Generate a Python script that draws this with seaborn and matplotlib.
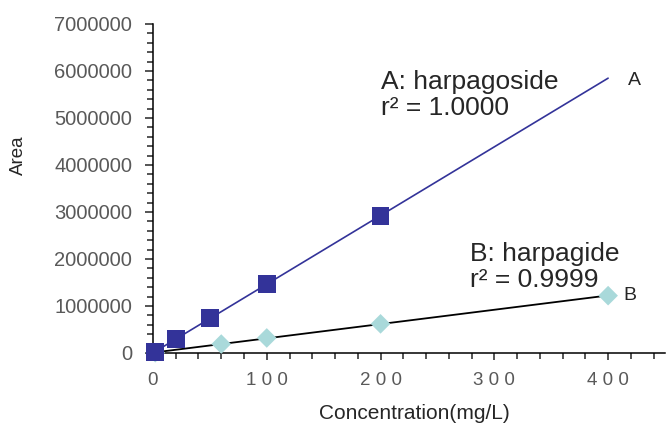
import numpy as np
import pandas as pd
import seaborn as sns
import matplotlib.pyplot as plt
from matplotlib.ticker import MultipleLocator, FuncFormatter

# calibration data
conc_a = [2, 20, 50, 100, 200]
area_a = [20000, 300000, 740000, 1470000, 2920000]
conc_b = [2, 60, 100, 200, 400]
area_b = [6000, 190000, 320000, 620000, 1220000]

label_a = 'A: harpagoside\nr² = 1.0000'
label_b = 'B: harpagide\nr² = 0.9999'

sns.set_style('ticks')
plt.rcParams['font.family'] = ['Liberation Sans', 'DejaVu Sans']

df_a = pd.DataFrame({'conc': conc_a, 'area': area_a})
df_b = pd.DataFrame({'conc': conc_b, 'area': area_b})

# linear fits, drawn from 0 to the highest concentration
x_fit = np.array([0, max(conc_b)])
fit_a = np.polyfit(conc_a, area_a, 1)
fit_b = np.polyfit(conc_b, area_b, 1)
df_fit = pd.DataFrame({'conc': x_fit,
                       'a': np.polyval(fit_a, x_fit),
                       'b': np.polyval(fit_b, x_fit)})

fig = plt.figure(figsize=(6.66, 4.23), dpi=100)
ax = fig.add_axes([0.2297, 0.1655, 0.7688, 0.7778])

sns.lineplot(data=df_fit, x='conc', y='b', color='black', lw=1.3, ax=ax, zorder=2)
sns.scatterplot(data=df_b, x='conc', y='area', marker='D', s=100, color='#a9d9da',
                edgecolor='none', ax=ax, zorder=3, clip_on=False)
sns.lineplot(data=df_fit, x='conc', y='a', color='#333399', lw=1.2, ax=ax, zorder=4)
sns.scatterplot(data=df_a, x='conc', y='area', marker='s', s=160, color='#333399',
                edgecolor='none', ax=ax, zorder=5, clip_on=False)

ax.set_xlim(0, 450)
ax.set_ylim(0, 7000000)
ax.xaxis.set_major_locator(MultipleLocator(100))
ax.xaxis.set_minor_locator(MultipleLocator(20))
ax.yaxis.set_major_locator(MultipleLocator(1000000))
ax.yaxis.set_minor_locator(MultipleLocator(200000))
ax.xaxis.set_major_formatter(FuncFormatter(lambda v, p: ' '.join(str(int(v)))))
ax.yaxis.set_major_formatter(FuncFormatter(lambda v, p: str(int(v))))

ax.tick_params(axis='x', which='major', length=5, width=1.1, pad=9, labelsize=13.5, labelcolor='#595959')
ax.tick_params(axis='x', which='minor', length=4, width=1.1)
ax.tick_params(axis='y', which='major', length=6, width=1.1, pad=9, labelsize=14.5, labelcolor='#595959')
ax.tick_params(axis='y', which='minor', length=4, width=1.1)
for s in ['left', 'bottom']:
    ax.spines[s].set_linewidth(1.1)
    ax.spines[s].set_color('black')
sns.despine(ax=ax)

ax.set_xlabel('Concentration(mg/L)', fontsize=15)
ax.set_ylabel('Area', fontsize=13.5)
ax.xaxis.set_label_coords(0.51, -0.155)
ax.yaxis.set_label_coords(-0.246, 0.6)

ax.text(200.5, 5064000, label_a, fontsize=19, va='baseline', linespacing=1.1)
ax.text(278.5, 1404000, label_b, fontsize=19, va='baseline', linespacing=1.1)
ax.text(417.5, 5700000, 'A', fontsize=14, va='baseline')
ax.text(413, 1130000, 'B', fontsize=14, va='baseline')

fig.savefig('out.png', dpi=100)
